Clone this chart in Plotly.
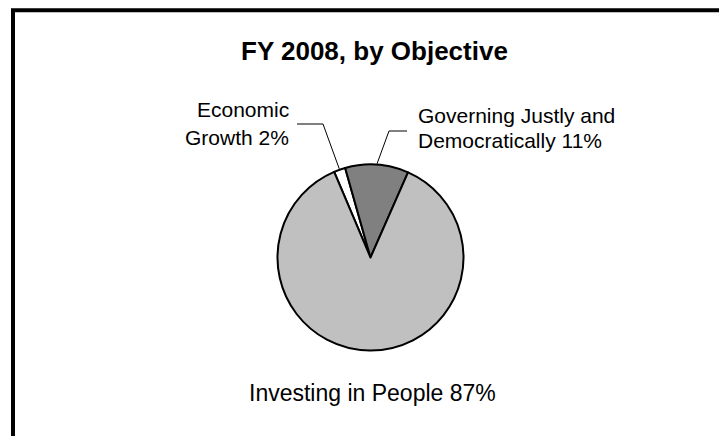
import math
import plotly.graph_objects as go

# ---- data ----
objectives = ["Economic Growth", "Governing Justly and Democratically", "Investing in People"]
shares = [2, 11, 87]
label_lines = [["Economic", "Growth 2%"], ["Governing Justly and", "Democratically 11%"], ["Investing in People 87%"]]
slice_colors = ["#FFFFFF", "#808080", "#C0C0C0"]
title_text = "FY 2008, by Objective"

# ---- layout geometry (page pixels) ----
W, H = 719, 436
cx, cy, R = 370.5, 257.5, 93.0
rotation = -23
FONT = "Liberation Sans, Arial, Helvetica, sans-serif"

def px(x):
    return x / W

def py(y):
    return 1 - y / H

fig = go.Figure(go.Pie(
    labels=objectives,
    values=shares,
    sort=False,
    direction="clockwise",
    rotation=rotation,
    marker=dict(colors=slice_colors, line=dict(color="black", width=2)),
    textinfo="none",
    hoverinfo="label+percent",
    showlegend=False,
    domain=dict(x=[px(cx - R), px(cx + R)], y=[py(cy + R), py(cy - R)]),
))

# mid angles of slices for leader lines
total = sum(shares)
mids = []
acc = rotation
for v in shares:
    ang = v / total * 360
    mids.append(acc + ang / 2)
    acc += ang

def edge_point(theta_deg, r):
    t = math.radians(theta_deg)
    return cx + r * math.sin(t), cy - r * math.cos(t)

shapes = []
# border (top and left visible, rest runs off canvas)
shapes.append(dict(type="rect", xref="paper", yref="paper",
                   x0=px(13), x1=px(W + 40), y0=py(10.3), y1=py(H + 40),
                   line=dict(color="black", width=4), fillcolor="rgba(0,0,0,0)", layer="above"))

# leader for Economic Growth
ex, ey = edge_point(mids[0], R + 1)
shapes.append(dict(type="path", xref="paper", yref="paper",
                   path=f"M {px(297)},{py(124)} L {px(323)},{py(124)} L {px(ex)},{py(ey)}",
                   line=dict(color="black", width=1)))
# leader for Governing
gx, gy = edge_point(mids[1], R + 1)
shapes.append(dict(type="path", xref="paper", yref="paper",
                   path=f"M {px(407)},{py(131)} L {px(389)},{py(131)} L {px(gx)},{py(gy)}",
                   line=dict(color="black", width=1)))

annotations = []
annotations.append(dict(text=f"<b>{title_text}</b>", x=px(374), y=py(51), xref="paper", yref="paper",
                        showarrow=False, xanchor="center", yanchor="middle",
                        font=dict(family=FONT, size=26, color="black")))
# Economic label (right aligned)
for line, yy in zip(label_lines[0], [110, 137]):
    annotations.append(dict(text=line, x=px(291), y=py(yy), xref="paper", yref="paper",
                            showarrow=False, xanchor="right", yanchor="middle",
                            font=dict(family=FONT, size=21, color="black")))
# Governing label (left aligned)
for line, yy in zip(label_lines[1], [116, 140]):
    annotations.append(dict(text=line, x=px(416), y=py(yy), xref="paper", yref="paper",
                            showarrow=False, xanchor="left", yanchor="middle",
                            font=dict(family=FONT, size=21, color="black")))
# Investing label
annotations.append(dict(text=label_lines[2][0], x=px(372), y=py(393), xref="paper", yref="paper",
                        showarrow=False, xanchor="center", yanchor="middle",
                        font=dict(family=FONT, size=23, color="black")))

fig.update_layout(
    width=W, height=H,
    margin=dict(l=0, r=0, t=0, b=0),
    paper_bgcolor="white", plot_bgcolor="white",
    shapes=shapes, annotations=annotations,
    showlegend=False,
)

fig.write_html(
    "out.html",
    config={"displayModeBar": False},
    post_script="document.body.style.margin='0';document.body.style.overflow='hidden';",
)
